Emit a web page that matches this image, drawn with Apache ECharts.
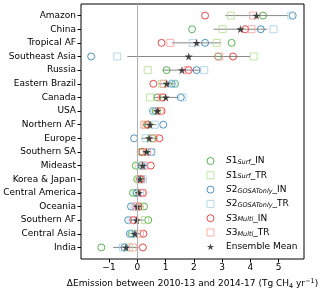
<!DOCTYPE html>
<html><head><meta charset="utf-8">
<script src="https://cdn.jsdelivr.net/npm/echarts@6/dist/echarts.min.js"></script>
<style>html,body{margin:0;padding:0;background:#fff}#c{width:320px;height:291px}</style>
</head><body><div id="c"></div>
<script>
const categories = ['Amazon','China','Tropical AF','Southeast Asia','Russia','Eastern Brazil','Canada','USA','Northern AF','Europe','Southern SA','Mideast','Korea & Japan','Central America','Oceania','Southern AF','Central Asia','India'];
const s1In = [4.45,1.94,3.34,2.86,1.04,1.34,0.71,0.65,0.40,0.55,0.12,-0.05,0.00,-0.15,0.24,0.39,-0.20,-1.27];
const s1Tr = [3.31,3.02,2.81,4.12,0.37,0.88,0.45,0.70,0.30,0.50,0.20,0.05,0.05,-0.05,0.10,0.27,-0.15,-0.30];
const s2In = [5.50,4.37,2.40,-1.63,2.10,1.22,1.54,0.56,0.92,-0.11,0.50,0.15,0.15,-0.02,-0.22,-0.32,-0.26,-0.45];
const s2Tr = [5.45,4.82,1.96,-0.71,2.37,1.29,1.60,0.60,0.62,0.30,0.50,0.20,0.20,0.10,-0.10,-0.20,-0.20,-0.50];
const s3In = [2.40,3.82,0.86,3.39,1.82,0.57,0.90,0.86,0.35,0.78,0.18,0.48,0.10,0.20,0.05,-0.14,0.22,0.20];
const s3Tr = [4.10,4.04,1.17,2.90,1.78,0.94,0.86,0.80,0.25,0.60,0.35,0.25,0.12,0.18,-0.05,-0.10,0.10,-0.16];
const meanVals = [4.22,3.65,2.10,1.82,1.58,1.04,1.01,0.71,0.45,0.42,0.33,0.19,0.10,0.05,0.01,-0.02,-0.08,-0.40];
const stdVals = [1.11,0.95,0.87,2.17,0.68,0.27,0.42,0.11,0.23,0.28,0.14,0.16,0.07,0.13,0.15,0.25,0.17,0.45];
const xTicks = [-1,0,1,2,3,4,5];

const FONT = 'DejaVu Sans';
const STAR = 'path://M50,0 L61.8,35.1 L98.9,35.1 L69.1,57 L80.3,92 L50,70.5 L19.7,92 L30.9,57 L1.1,35.1 L38.2,35.1 Z';
const yIdx = categories.map((_, i) => i);

function pts(arr){ return arr.map((v,i)=>[v,i]); }
function mk(name, arr, color, symbol){
  return {
    name, type:'scatter', data: pts(arr), symbol, symbolSize: 7,
    itemStyle:{color:'rgba(255,255,255,0)', borderColor: color, borderWidth: 1},
    z: 3, silent: true
  };
}
const rich = {
  a:{fontFamily:FONT,fontSize:9,color:'#000',lineHeight:10},
  ai:{fontFamily:FONT,fontSize:9,color:'#000',fontStyle:'italic',lineHeight:10},
  s:{fontFamily:FONT,fontSize:6.5,color:'#000',fontStyle:'italic',verticalAlign:'bottom',lineHeight:10,padding:[3,0,0,0]},
  g:{width:7,lineHeight:10}
};
const legendLabels = {
  'S1_IN':'{g|}{ai|S}{a|1}{s|Surf}{a|_IN}',
  'S1_TR':'{g|}{ai|S}{a|1}{s|Surf}{a|_TR}',
  'S2_IN':'{g|}{ai|S}{a|2}{s|GOSATonly}{a|_IN}',
  'S2_TR':'{g|}{ai|S}{a|2}{s|GOSATonly}{a|_TR}',
  'S3_IN':'{g|}{ai|S}{a|3}{s|Multi}{a|_IN}',
  'S3_TR':'{g|}{ai|S}{a|3}{s|Multi}{a|_TR}',
  'Ensemble Mean':'{g|}{a|Ensemble Mean}'
};

const chart = echarts.init(document.getElementById('c'), null, {renderer:'canvas'});
chart.setOption({
  animation:false,
  grid:{left:81,right:16,top:4,bottom:32,show:true,borderColor:'#000',borderWidth:1,backgroundColor:'transparent',
        containLabel:false,outerBoundsMode:'none'},
  xAxis:{
    type:'value', min:-1.99, max:5.9,
    axisLine:{show:false,onZero:false},
    splitLine:{show:false},
    axisTick:{show:true,length:3.5,lineStyle:{color:'#000'},customValues:xTicks},
    axisLabel:{fontFamily:FONT,fontSize:9,color:'#000',margin:4,customValues:xTicks,
      formatter:v=>(v<0?'\u2212'+Math.abs(v):String(v))},
    name:'\u0394Emission between 2010-13 and 2014-17 (Tg CH{sub|4} yr{sup|\u22121})',
    nameLocation:'middle', nameGap:18.5,
    nameTextStyle:{fontFamily:FONT,fontSize:9,color:'#000',lineHeight:12,
      rich:{sub:{fontFamily:FONT,fontSize:6.5,color:'#000',verticalAlign:'bottom',lineHeight:12,padding:[4,0,0,0]},
            sup:{fontFamily:FONT,fontSize:6.5,color:'#000',verticalAlign:'top',lineHeight:12,padding:[0,0,4,0]}}}
  },
  yAxis:{
    type:'value', inverse:true, min:-0.85, max:17.85,
    axisLine:{show:false,onZero:false},
    splitLine:{show:false},
    axisTick:{show:true,length:3.5,lineStyle:{color:'#000'},customValues:yIdx},
    axisLabel:{fontFamily:FONT,fontSize:9,color:'#000',margin:5,customValues:yIdx,
      formatter:v=>categories[Math.round(v)]||''}
  },
  legend:{
    orient:'vertical', left:206.5, top:156, itemWidth:7, itemHeight:7, itemGap:4.3,
    padding:0, selectedMode:false,
    itemStyle:{borderWidth:1},
    data:['S1_IN','S1_TR','S2_IN','S2_TR','S3_IN','S3_TR','Ensemble Mean'],
    formatter:n=>legendLabels[n],
    textStyle:{fontFamily:FONT,fontSize:9,color:'#000',lineHeight:10,rich:rich}
  },
  series:[
    {
      name:'spread', type:'custom', z:1, silent:true,
      data: meanVals.map((m,i)=>[m, i, stdVals[i]]),
      renderItem:(params, api)=>{
        const m = api.value(0), i = api.value(1), s = api.value(2);
        const p1 = api.coord([m - s, i]), p2 = api.coord([m + s, i]);
        return {type:'line', shape:{x1:p1[0],y1:p1[1],x2:p2[0],y2:p2[1]}, style:{stroke:'#888',lineWidth:1}};
      },
      markLine:{silent:true,symbol:['none','none'],label:{show:false},
        lineStyle:{color:'#b0b0b0',width:1,type:'solid'},data:[{xAxis:0}]}
    },
    mk('S1_IN', s1In, '#33a02c', 'circle'),
    mk('S1_TR', s1Tr, '#b2df8a', 'rect'),
    mk('S2_IN', s2In, '#1f78b4', 'circle'),
    mk('S2_TR', s2Tr, '#a6cee3', 'rect'),
    mk('S3_IN', s3In, '#e31a1c', 'circle'),
    mk('S3_TR', s3Tr, '#fb9a99', 'rect'),
    {name:'Ensemble Mean', type:'scatter', data: pts(meanVals), symbol: STAR, symbolSize:8,
      itemStyle:{color:'#222'}, z:4, silent:true}
  ]
});
</script></body></html>
